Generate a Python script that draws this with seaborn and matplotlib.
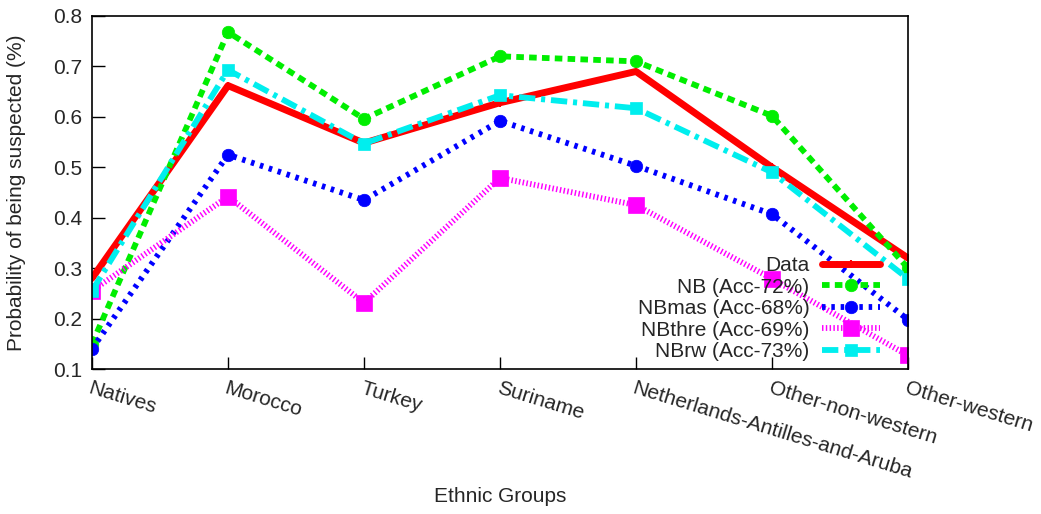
import matplotlib
matplotlib.use("Agg")
import matplotlib.pyplot as plt
import seaborn as sns
import pandas as pd

# Ethnic groups on the x axis
groups = ["Natives", "Morocco", "Turkey", "Suriname",
          "Netherlands-Antilles-and-Aruba", "Other-non-western", "Other-western"]

# Probability of being suspected per group
data_obs = [0.280, 0.662, 0.548, 0.628, 0.690, 0.500, 0.320]
nb = [0.150, 0.768, 0.596, 0.720, 0.710, 0.602, 0.300]
nb_mas = [0.140, 0.525, 0.435, 0.592, 0.503, 0.407, 0.198]
nb_thre = [0.255, 0.442, 0.231, 0.479, 0.425, 0.279, 0.127]
nb_rw = [0.255, 0.693, 0.547, 0.643, 0.617, 0.490, 0.279]

series_names = ["Data", "NB (Acc-72%)", "NBmas (Acc-68%)", "NBthre (Acc-69%)", "NBrw (Acc-73%)"]
series_values = [data_obs, nb, nb_mas, nb_thre, nb_rw]

sns.set_theme(style="white")
plt.rcParams["font.family"] = ["Liberation Sans", "DejaVu Sans"]

fig = plt.figure(figsize=(10.41, 5.14), dpi=100)
ax = fig.add_axes([0.0884, 0.2821, 0.7838, 0.6868])

# dash patterns are given in multiples of the line width
styles = [
    dict(color="#ff0000", lw=5.0, dashes=None, marker="+", ms=6, mew=1.5),
    dict(color="#00ee00", lw=4.2, dashes=(1.3, 0.9), marker="o", ms=9),
    dict(color="#0000ff", lw=4.2, dashes=(0.6, 1.0), marker="o", ms=9),
    dict(color="#ff00ff", lw=4.2, dashes=(0.25, 0.4), marker="s", ms=11),
    dict(color="#00eeee", lw=4.2, dashes=(2.8, 1.0, 0.7, 1.0), marker="s", ms=8),
]

for name, vals, st in zip(series_names, series_values, styles):
    df = pd.DataFrame({"group": groups, "prob": vals})
    sns.lineplot(data=df, x="group", y="prob", ax=ax, sort=False,
                 color=st["color"], linewidth=st["lw"], marker=st["marker"],
                 markersize=st["ms"], markeredgecolor=st["color"],
                 markeredgewidth=st.get("mew", 0.5), label=name)
    line = ax.get_lines()[-1]
    if st["dashes"] is not None:
        line.set_dashes(list(st["dashes"]))
        line.set_dash_capstyle("butt")

fs = 15
ax.set_xlim(0, len(groups) - 1)
ax.set_ylim(0.1, 0.8)
ax.set_yticks([0.1, 0.2, 0.3, 0.4, 0.5, 0.6, 0.7, 0.8])
ax.set_yticklabels([f"{v:.1f}" for v in ax.get_yticks()], fontsize=fs)
ax.set_xticks(range(len(groups)))
ax.set_xticklabels(groups, fontsize=fs, rotation=-17, ha="left", va="top",
                   rotation_mode="anchor")

ax.tick_params(axis="both", direction="in", length=9, width=1, color="black",
               bottom=True, left=True, top=False, right=False, pad=7)
for sp in ax.spines.values():
    sp.set_color("black")
    sp.set_linewidth(1.2)

ax.set_xlabel("Ethnic Groups", fontsize=fs)
ax.xaxis.set_label_coords(0.5, -0.335)
ax.set_ylabel("Probability of being suspected (%)", fontsize=fs)
ax.yaxis.set_label_coords(-0.081, 0.5)
ax.grid(False)

leg = ax.legend(loc="lower right", bbox_to_anchor=(0.966, 0.022), frameon=False,
                markerfirst=False, fontsize=fs, handlelength=2.8,
                labelspacing=0.12, handletextpad=0.6, borderaxespad=0.0,
                borderpad=0.0)
for t in leg.get_texts():
    t.set_ha("right")
leg._legend_box.align = "right"

fig.savefig("out.png", dpi=100)
